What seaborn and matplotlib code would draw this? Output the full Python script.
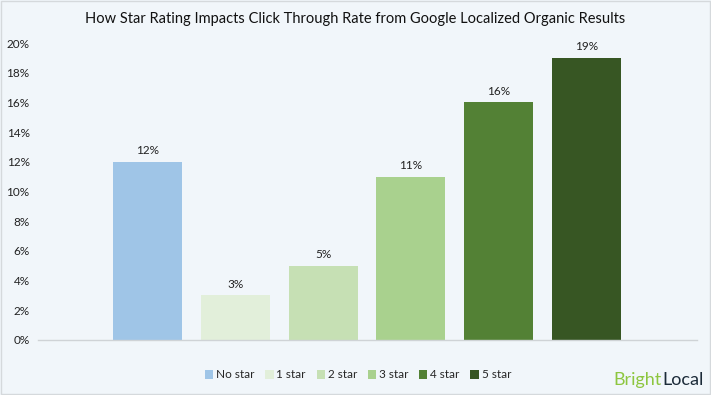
import pandas as pd
import matplotlib.pyplot as plt
import seaborn as sns
from matplotlib.patches import Patch, Rectangle

categories = ["No star", "1 star", "2 star", "3 star", "4 star", "5 star"]
ctr = [12, 3, 5, 11, 16, 19]
colors = ["#9fc5e7", "#e2efda", "#c6e0b4", "#a9d18e", "#538135", "#375623"]
yticks = [0, 2, 4, 6, 8, 10, 12, 14, 16, 18, 20]

df = pd.DataFrame({"rating": categories, "ctr": ctr})
bg = "#f1f6fa"

sns.set_style("white")
plt.rcParams["font.family"] = ["Lato", "DejaVu Sans"]

fig = plt.figure(figsize=(7.11, 3.95), dpi=100, facecolor=bg)
ax = fig.add_axes([38 / 711, 1 - 340 / 395, (697 - 38) / 711, (340 - 43) / 395])
ax.set_facecolor(bg)

sns.barplot(data=df, x="rating", y="ctr", hue="rating", palette=colors,
            order=categories, hue_order=categories, dodge=False, legend=False,
            width=0.786, linewidth=0, saturation=1, ax=ax)

for c in ax.containers:
    ax.bar_label(c, fmt="%d%%", padding=4, fontsize=8.5, color="#222222")

ax.set_xlim(-1.247, 6.26)
ax.set_ylim(0, 20)
ax.set_yticks(yticks)
ax.set_yticklabels([f"{v}%" for v in yticks], fontsize=8.5, color="#222222")
ax.tick_params(axis="y", length=0, pad=6)
ax.set_xticks([])
ax.set_xlabel("")
ax.set_ylabel("")
for s in ["top", "right", "left"]:
    ax.spines[s].set_visible(False)
ax.spines["bottom"].set_color("#cfd3d6")
ax.spines["bottom"].set_linewidth(1)

fig.text(0.5, 1 - 19 / 395, "How Star Rating Impacts Click Through Rate from Google Localized Organic Results",
         ha="center", va="center", fontsize=10.5, color="#111111")

handles = [Patch(facecolor=c, edgecolor="none") for c in colors]
fig.legend(handles, categories, loc="center", bbox_to_anchor=(358 / 711, 1 - 375 / 395),
           ncol=6, frameon=False, fontsize=8.5, handlelength=0.7, handleheight=0.7,
           handletextpad=0.25, columnspacing=0.9)

fig.text(662 / 711, 1 - 385 / 395, "Bright", ha="right", va="baseline", fontsize=13, color="#8dc63f")
fig.text(662 / 711, 1 - 385 / 395, "Local", ha="left", va="baseline", fontsize=13, color="#1c2b39")

fig.patches.append(Rectangle((0.001, 0.002), 0.998, 0.996, transform=fig.transFigure,
                             fill=False, edgecolor="#d5d9dc", linewidth=1))

fig.savefig("out.png", dpi=100, facecolor=bg)
